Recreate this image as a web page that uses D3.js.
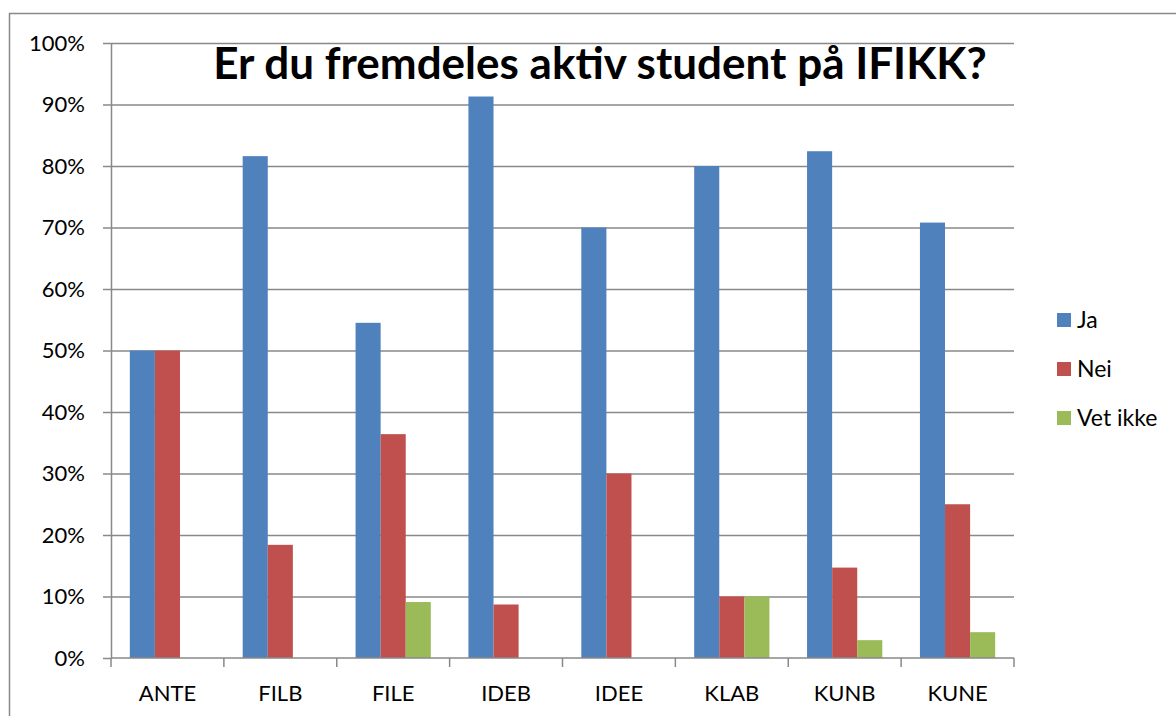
<!DOCTYPE html>
<html>
<head>
<meta charset="utf-8">
<script src="https://cdn.jsdelivr.net/npm/d3@7"></script>
<style>
  body { margin: 0; background: #fff; }
  svg { display: block; font-family: Lato, "Open Sans", sans-serif; }
  .grid line { stroke: #898989; stroke-width: 1.5; }
  .grid path { display: none; }
  .axis path, .axis line { stroke: #898989; stroke-width: 1.5; }
  .axis text { fill: #000; font-size: 22px; font-family: Lato, "Open Sans", sans-serif; }
</style>
</head>
<body>
<svg width="1176" height="716"></svg>
<script>
var categories = ["ANTE", "FILB", "FILE", "IDEB", "IDEE", "KLAB", "KUNB", "KUNE"];
var series = ["Ja", "Nei", "Vet ikke"];
var ja     = [0.50, 0.816, 0.545, 0.913, 0.70, 0.80, 0.824, 0.708];
var nei    = [0.50, 0.184, 0.364, 0.087, 0.30, 0.10, 0.147, 0.25];
var vetIkke = [0, 0, 0.091, 0, 0, 0.10, 0.029, 0.042];
var yTicks = [0, 0.1, 0.2, 0.3, 0.4, 0.5, 0.6, 0.7, 0.8, 0.9, 1.0];
var title = "Er du fremdeles aktiv student på IFIKK?";

var colors = ["#4f81bd", "#c0504d", "#9bbb59"];
var values = [ja, nei, vetIkke];

var svg = d3.select("svg"),
    margin = {top: 43, left: 111},
    plotW = 903,
    plotH = 615;

// outer chart border (runs off the right/bottom edge like the original)
svg.append("rect")
    .attr("x", 9.5)
    .attr("y", 13.5)
    .attr("width", 1200)
    .attr("height", 740)
    .attr("fill", "none")
    .attr("stroke", "#898989")
    .attr("stroke-width", 1.5);

var chart = svg.append("g")
    .attr("transform", "translate(" + margin.left + "," + margin.top + ")");

var x = d3.scaleBand().domain(categories).range([0, plotW]);
var barW = x.bandwidth() / (series.length + 1.5);   // excel gap width 150%
var x1 = d3.scaleBand().domain(series)
    .range([barW * 0.75, barW * 0.75 + barW * series.length]);
var y = d3.scaleLinear().domain([0, 1]).range([plotH, 0]);

// gridlines
chart.append("g")
    .attr("class", "grid")
    .call(d3.axisLeft(y).tickValues(yTicks.slice(1)).tickSize(-plotW).tickFormat(""));

// y axis
var yAxis = chart.append("g")
    .attr("class", "axis")
    .call(d3.axisLeft(y).tickValues(yTicks).tickSize(8).tickSizeOuter(0)
      .tickPadding(18).tickFormat(d3.format(".0%")));

// bars
var group = chart.selectAll(".cat")
    .data(categories)
  .enter().append("g")
    .attr("class", "cat")
    .attr("transform", function(d) { return "translate(" + x(d) + ",0)"; });

series.forEach(function(s, si) {
  group.append("rect")
      .attr("x", x1(s))
      .attr("width", x1.bandwidth())
      .attr("y", function(d, i) { return y(values[si][i]); })
      .attr("height", function(d, i) { return plotH - y(values[si][i]); })
      .attr("fill", colors[si]);
});

// x axis: labels at centres, ticks at category boundaries
var xAxis = chart.append("g")
    .attr("class", "axis")
    .attr("transform", "translate(0," + plotH + ")")
    .call(d3.axisBottom(x).tickSize(0).tickSizeOuter(0).tickPadding(27));
xAxis.select(".domain").attr("d", "M0,0H" + plotW);

var bounds = categories.map(function(c) { return x(c); }).concat([x.range()[1]]);
xAxis.selectAll(".bound")
    .data(bounds)
  .enter().append("line")
    .attr("class", "bound")
    .attr("x1", function(d) { return d; })
    .attr("x2", function(d) { return d; })
    .attr("y1", 0)
    .attr("y2", 9);

// title
svg.append("text")
    .attr("x", 600)
    .attr("y", 79)
    .attr("text-anchor", "middle")
    .style("font-size", "44px")
    .style("font-weight", "bold")
    .text(title);

// legend
var legend = svg.append("g")
    .attr("transform", "translate(1057,320)");

var item = legend.selectAll(".item")
    .data(series)
  .enter().append("g")
    .attr("class", "item")
    .attr("transform", function(d, i) { return "translate(0," + (i * 49) + ")"; });

item.append("rect")
    .attr("x", 0)
    .attr("y", -7)
    .attr("width", 14)
    .attr("height", 14)
    .attr("fill", function(d, i) { return colors[i]; });

item.append("text")
    .attr("x", 20)
    .attr("y", 0)
    .attr("dy", ".35em")
    .style("font-size", "23px")
    .text(function(d) { return d; });
</script>
</body>
</html>
